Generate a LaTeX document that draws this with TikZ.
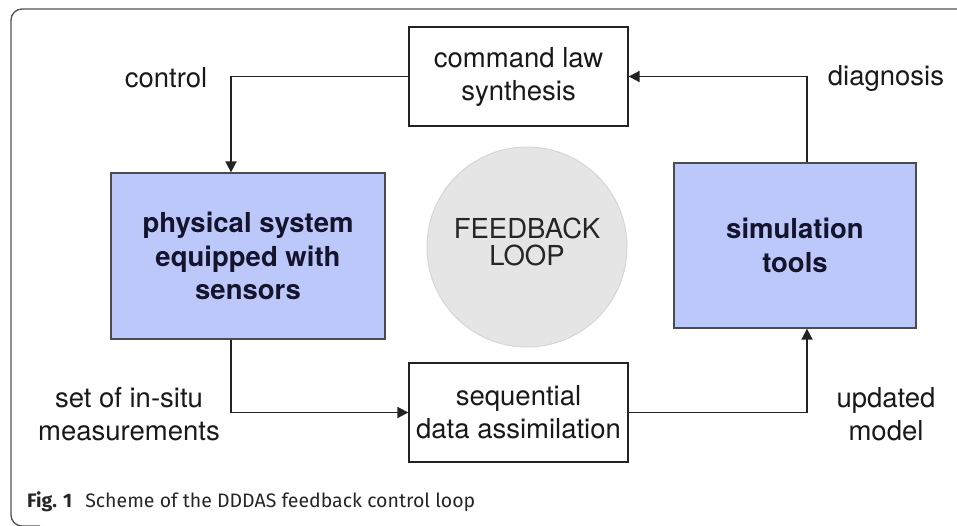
\documentclass[tikz,border=0pt]{standalone}
\usepackage{fontspec}
\setmainfont{TeX Gyre Heros}
\newfontfamily\capfont{Fira Sans}
\usetikzlibrary{arrows.meta,calc}
\definecolor{boxblue}{RGB}{189,200,250}
\definecolor{circfill}{RGB}{229,229,229}
\definecolor{circline}{RGB}{214,214,214}
\definecolor{lineclr}{RGB}{35,35,35}
\definecolor{frameclr}{RGB}{80,80,80}
\definecolor{bluetext}{RGB}{20,20,45}
\begin{document}
\begin{tikzpicture}[x=1pt,y=-1pt,
  txt/.style={font=\fontsize{27.5}{33}\selectfont, align=center, text=black!90, inner sep=0pt},
  whitebox/.style={draw=lineclr, line width=1.3pt, fill=white, minimum width=219pt, minimum height=99pt, inner sep=0pt, font=\fontsize{27.5}{33}\selectfont, align=center, text=black!90},
  bluebox/.style={draw=black!70, line width=1.3pt, fill=boxblue, inner sep=0pt, font=\bfseries\fontsize{27.5}{33.5}\selectfont, align=center, text=bluetext},
  conn/.style={draw=lineclr, line width=1.8pt, -{Triangle[length=11pt,width=11pt]}}
]
\useasboundingbox (0,0) rectangle (957,525);
\clip (0,0) rectangle (957,525);
% outer frame
\draw[frameclr, line width=1.3pt, rounded corners=11pt] (970,9) -- (11,9) -- (11,526) -- (40,526);
% circle
\node[circle, fill=circfill, draw=circline, line width=1pt, minimum size=200pt, inner sep=0pt] (loop) at (527,247) {};
\node[font=\fontsize{27.5}{27}\selectfont, align=center, text=black!85, inner sep=0pt] (looptxt) at (527,242) {FEEDBACK\\LOOP};
% boxes
\node[whitebox] (cmd) at (518.5,76.5) {command law\\synthesis};
\node[whitebox] (seq) at (518.5,412.5) {sequential\\data assimilation};
\node[bluebox, minimum width=274pt, minimum height=166pt] (phys) at (248,256) {physical system\\equipped with\\sensors};
\node[bluebox, minimum width=242pt, minimum height=165pt] (sim) at (795,245.5) {simulation\\tools};
% labels
\node[txt] (lcontrol) at (166,78) {control};
\node[txt] (ldiag) at (886,78) {diagnosis};
\node[txt] (lmeas) at (129,414) {set of in-situ\\measurements};
\node[txt] (lupd) at (886,414) {updated\\model};
% connectors
\draw[conn] (cmd.west) -| ([xshift=-17pt]phys.north);
\draw[conn] ([xshift=-17pt]phys.south) |- (seq.west);
\draw[conn] (seq.east) -| ([xshift=12pt]sim.south);
\draw[conn] ([xshift=12pt]sim.north) |- (cmd.east);
% caption
\node[anchor=base west, inner sep=0pt, font=\capfont\fontsize{19.5}{22}\selectfont, text=black!85] (caption) at (27,507) {\textbf{Fig. 1}\hspace{13pt}Scheme of the DDDAS feedback control loop};
\end{tikzpicture}
\end{document}
